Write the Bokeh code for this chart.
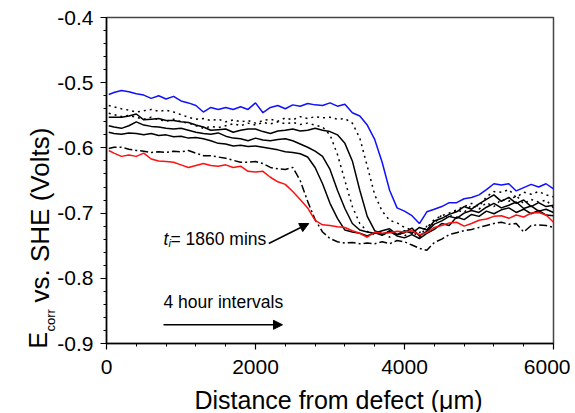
import math
from bokeh.plotting import figure
from bokeh.models import Range1d, FixedTicker, PrintfTickFormatter, Label, Arrow, NormalHead
from bokeh.embed import file_html
from bokeh.resources import INLINE

# distance from defect (um)
distance = [30] + list(range(100, 6001, 100))

# Ecorr vs SHE (V)
blue_latest = [
    -0.518, -0.515, -0.512, -0.514, -0.517, -0.519, -0.524, -0.520, -0.525, -0.521,
    -0.528, -0.531, -0.535, -0.545, -0.538, -0.541, -0.538, -0.541, -0.537, -0.541,
    -0.531, -0.546, -0.538, -0.535, -0.540, -0.534, -0.536, -0.532, -0.534, -0.535,
    -0.531, -0.536, -0.533, -0.546, -0.551, -0.565, -0.587, -0.622, -0.665, -0.692,
    -0.697, -0.704, -0.716, -0.698, -0.694, -0.690, -0.684, -0.684, -0.678, -0.676,
    -0.672, -0.664, -0.655, -0.657, -0.655, -0.666, -0.661, -0.656, -0.660, -0.655,
    -0.663]
dotted_late = [
    -0.535, -0.537, -0.540, -0.542, -0.545, -0.543, -0.541, -0.544, -0.542, -0.545,
    -0.549, -0.553, -0.556, -0.555, -0.558, -0.556, -0.560, -0.557, -0.560, -0.558,
    -0.562, -0.558, -0.556, -0.559, -0.554, -0.557, -0.552, -0.555, -0.552, -0.554,
    -0.553, -0.556, -0.555, -0.562, -0.585, -0.628, -0.672, -0.697, -0.711, -0.715,
    -0.722, -0.726, -0.730, -0.722, -0.710, -0.704, -0.700, -0.695, -0.690, -0.685,
    -0.690, -0.675, -0.667, -0.668, -0.664, -0.676, -0.668, -0.671, -0.667, -0.672,
    -0.675]
solid_c = [
    -0.553, -0.553, -0.553, -0.551, -0.548, -0.557, -0.556, -0.555, -0.558, -0.558,
    -0.560, -0.561, -0.565, -0.568, -0.573, -0.572, -0.571, -0.576, -0.573, -0.571,
    -0.571, -0.575, -0.578, -0.574, -0.573, -0.571, -0.574, -0.573, -0.570, -0.573,
    -0.575, -0.580, -0.593, -0.620, -0.665, -0.705, -0.727, -0.732, -0.729, -0.733,
    -0.727, -0.731, -0.722, -0.726, -0.712, -0.708, -0.702, -0.698, -0.690, -0.694,
    -0.686, -0.679, -0.672, -0.682, -0.676, -0.685, -0.680, -0.690, -0.684, -0.690,
    -0.688]
dotted_mid = [
    -0.547, -0.549, -0.552, -0.550, -0.553, -0.556, -0.553, -0.557, -0.559, -0.556,
    -0.560, -0.562, -0.566, -0.570, -0.567, -0.569, -0.566, -0.563, -0.566, -0.562,
    -0.565, -0.561, -0.563, -0.560, -0.563, -0.561, -0.564, -0.562, -0.565, -0.568,
    -0.580, -0.610, -0.650, -0.690, -0.716, -0.728, -0.733, -0.730, -0.737, -0.730,
    -0.735, -0.728, -0.737, -0.720, -0.716, -0.703, -0.707, -0.695, -0.699, -0.688,
    -0.694, -0.684, -0.690, -0.679, -0.682, -0.673, -0.686, -0.679, -0.683, -0.680,
    -0.692]
solid_b = [
    -0.566, -0.568, -0.570, -0.566, -0.560, -0.565, -0.567, -0.568, -0.570, -0.571,
    -0.570, -0.573, -0.576, -0.578, -0.579, -0.577, -0.582, -0.585, -0.586, -0.589,
    -0.585, -0.588, -0.589, -0.587, -0.586, -0.589, -0.594, -0.599, -0.605, -0.613,
    -0.633, -0.665, -0.693, -0.716, -0.726, -0.729, -0.731, -0.727, -0.724, -0.733,
    -0.730, -0.723, -0.735, -0.728, -0.717, -0.712, -0.705, -0.708, -0.700, -0.696,
    -0.699, -0.691, -0.685, -0.692, -0.688, -0.683, -0.693, -0.689, -0.697, -0.694,
    -0.699]
solid_a = [
    -0.576, -0.578, -0.579, -0.577, -0.578, -0.580, -0.578, -0.581, -0.580, -0.583,
    -0.582, -0.585, -0.584, -0.586, -0.589, -0.593, -0.594, -0.597, -0.596, -0.598,
    -0.597, -0.599, -0.601, -0.603, -0.606, -0.607, -0.609, -0.614, -0.630, -0.655,
    -0.685, -0.708, -0.726, -0.729, -0.731, -0.735, -0.730, -0.734, -0.727, -0.735,
    -0.738, -0.733, -0.739, -0.731, -0.725, -0.716, -0.719, -0.706, -0.710, -0.702,
    -0.705, -0.697, -0.701, -0.695, -0.692, -0.699, -0.694, -0.701, -0.696, -0.703,
    -0.704]
dashdot_early = [
    -0.601, -0.599, -0.599, -0.602, -0.604, -0.605, -0.607, -0.606, -0.607, -0.605,
    -0.606, -0.604, -0.608, -0.612, -0.612, -0.614, -0.616, -0.619, -0.622, -0.622,
    -0.621, -0.624, -0.630, -0.632, -0.633, -0.630, -0.650, -0.682, -0.710, -0.729,
    -0.739, -0.744, -0.746, -0.745, -0.747, -0.746, -0.747, -0.744, -0.747, -0.742,
    -0.744, -0.749, -0.754, -0.757, -0.745, -0.740, -0.733, -0.730, -0.727, -0.725,
    -0.722, -0.719, -0.716, -0.714, -0.717, -0.716, -0.729, -0.719, -0.718, -0.719,
    -0.722]
red_initial = [
    -0.604, -0.608, -0.613, -0.611, -0.613, -0.608, -0.617, -0.620, -0.621, -0.622,
    -0.626, -0.630, -0.627, -0.624, -0.627, -0.628, -0.626, -0.630, -0.628, -0.636,
    -0.637, -0.636, -0.645, -0.652, -0.656, -0.667, -0.679, -0.692, -0.711, -0.718,
    -0.719, -0.721, -0.722, -0.727, -0.731, -0.737, -0.729, -0.731, -0.730, -0.728,
    -0.729, -0.727, -0.733, -0.730, -0.722, -0.719, -0.715, -0.714, -0.720, -0.716,
    -0.711, -0.709, -0.705, -0.704, -0.708, -0.703, -0.706, -0.700, -0.699, -0.703,
    -0.714]

x_ticks = [0, 2000, 4000, 6000]
y_ticks = [-0.9, -0.8, -0.7, -0.6, -0.5, -0.4]

FONT = "Liberation Sans"

p = figure(width=570, height=412, output_backend="svg", toolbar_location=None,
           x_range=Range1d(0, 6000), y_range=Range1d(-0.9, -0.4),
           min_border_left=106, min_border_right=17, min_border_top=17,
           min_border_bottom=69, background_fill_color="white",
           border_fill_color="white")
p.grid.visible = False
p.outline_line_color = "#444444"
p.outline_line_width = 1.5

x_minor = [400 * k for k in range(16) if (400 * k) % 2000 != 0]
y_minor = [round(-0.9 + 0.02 * k, 2) for k in range(26)]
p.xaxis.ticker = FixedTicker(ticks=x_ticks, minor_ticks=x_minor)
p.yaxis.ticker = FixedTicker(ticks=y_ticks, minor_ticks=y_minor)
p.yaxis.formatter = PrintfTickFormatter(format="%.1f")
for ax in (p.xaxis[0], p.yaxis[0]):
    ax.axis_line_color = "black"
    ax.axis_line_width = 1.5
    ax.major_tick_line_color = "black"
    ax.major_tick_line_width = 1.2
    ax.minor_tick_line_color = "black"
    ax.minor_tick_line_width = 1
    ax.major_tick_in = 0
    ax.major_tick_out = 6
    ax.minor_tick_in = 0
    ax.minor_tick_out = 3
    ax.major_label_text_font = FONT
    ax.major_label_text_font_size = "21px"
    ax.major_label_text_color = "black"
p.xaxis.major_label_standoff = 10
p.yaxis.major_label_standoff = 7

black_styles = [
    (dotted_late, "2 4"),
    (solid_c, "solid"),
    (dotted_mid, "2 4"),
    (solid_b, "solid"),
    (solid_a, "solid"),
    (dashdot_early, "8 3 2 3"),
]
for ys, dash in black_styles:
    p.line(distance, ys, line_color="black", line_width=1.5, line_dash=dash)
p.line(distance, red_initial, line_color="#ff1010", line_width=1.5)
p.line(distance, blue_latest, line_color="#1010ff", line_width=1.5)

# axis titles: labels placed in side panels (panels are not clipped);
# each one sits in a panel slot that has room, offsets move it into place
p.add_layout(Label(x=232, y=5, x_units="screen", y_units="screen",
                   text="Distance from defect (μm)", text_font=FONT,
                   text_font_size="25px", text_align="center",
                   text_baseline="alphabetic", text_color="black"), "below")
ang = math.pi / 2
p.add_layout(Label(x=15, y=41, x_units="screen", y_units="screen", angle=ang,
                   text="vs. SHE (Volts)", text_font=FONT, text_font_size="26px",
                   text_align="left", text_baseline="alphabetic",
                   text_color="black"), "left")
p.add_layout(Label(x=-69, y=-331, x_units="screen", y_units="screen", angle=ang,
                   text="E", text_font=FONT, text_font_size="25px",
                   text_align="left", text_baseline="alphabetic",
                   text_color="black"), "above")
p.add_layout(Label(x=-503, y=12, x_units="screen", y_units="screen", angle=ang,
                   text="corr", text_font=FONT, text_font_size="13px",
                   text_align="left", text_baseline="alphabetic",
                   text_color="black"), "right")

# annotations
p.add_layout(Label(x=765, y=-0.7395, text="t", text_font=FONT, text_color="black",
                   text_font_style="italic", text_font_size="17.5px",
                   text_baseline="alphabetic"))
p.add_layout(Label(x=765, y=-0.7395, x_offset=5, y_offset=-4, text="i",
                   text_font=FONT, text_font_style="italic", text_color="black",
                   text_font_size="11px", text_baseline="alphabetic"))
p.add_layout(Label(x=765, y=-0.7395, x_offset=7, text="= 1860 mins",
                   text_font=FONT, text_font_size="17.5px", text_color="black",
                   text_baseline="alphabetic"))
p.add_layout(Arrow(end=NormalHead(size=9, fill_color="black", line_color="black"),
                   x_start=2178, y_start=-0.7466, x_end=2715, y_end=-0.716,
                   line_width=1.5, line_color="black"))
p.add_layout(Label(x=765, y=-0.8367, text="4 hour intervals", text_font=FONT,
                   text_font_size="17.5px", text_baseline="alphabetic",
                   text_color="black"))
p.add_layout(Arrow(end=NormalHead(size=9, fill_color="black", line_color="black"),
                   x_start=765, y_start=-0.8713, x_end=2362, y_end=-0.8713,
                   line_width=1.5, line_color="black"))

open("out.html", "w").write(file_html(p, INLINE))
